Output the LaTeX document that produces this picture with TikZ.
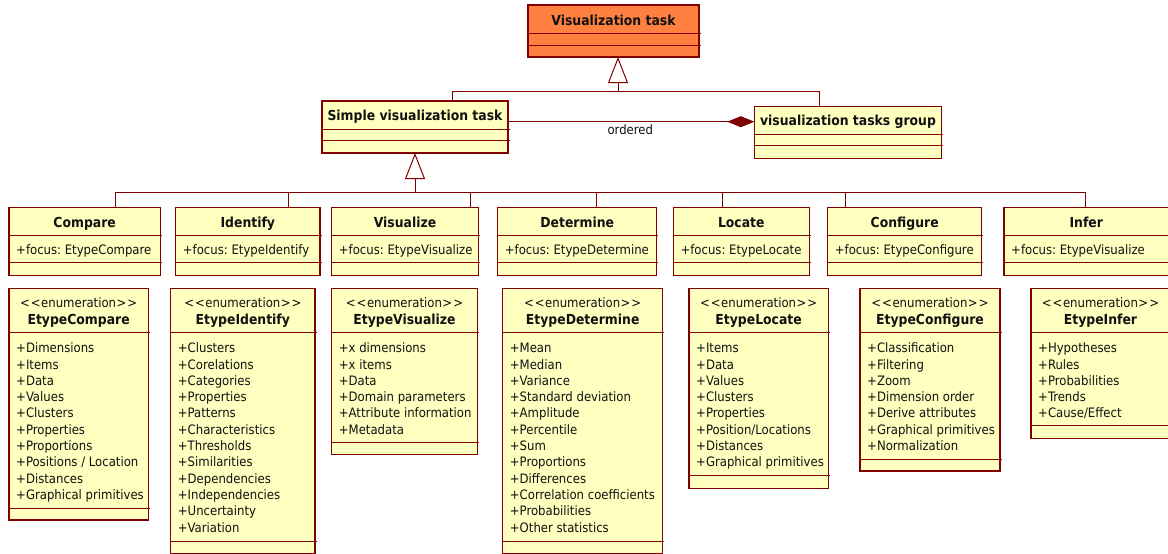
\documentclass[tikz,border=0pt]{standalone}
\usepackage{fontspec}
\setmainfont{DejaVu Sans Condensed}
\usetikzlibrary{arrows.meta}
\definecolor{umlred}{HTML}{800000}
\definecolor{classfill}{HTML}{FFFFC0}
\definecolor{vtfill}{HTML}{FF8040}
\definecolor{txt}{HTML}{111111}
\frenchspacing
\tikzset{
  boxshape/.style={draw=umlred, line width=1.1pt, rectangle, inner sep=0pt, outer sep=0pt},
  sepline/.style={draw=umlred, line width=1pt},
  conn/.style={draw=umlred, line width=1pt},
  titletext/.style={font=\bfseries\fontsize{13.8}{16}\selectfont, inner sep=0pt, text=txt},
  bodytext/.style={font=\fontsize{13}{16}\selectfont, inner sep=0pt, text=txt},
}
% name, x1, y1, x2, y2, line1, line2, style
\newcommand\umlbox[8]{%
  \node[boxshape,#8,minimum width={(#4)-(#2)},minimum height={(#5)-(#3)}] (#1) at ({((#2)+(#4))/2},{((#3)+(#5))/2}) {};
  \draw[sepline] (#1.west |- 0,#6) -- ++({(#4)-(#2)+1.5},0);
  \draw[sepline] (#1.west |- 0,#7) -- ++({(#4)-(#2)+1.5},0);
}
% name, x1, x2, connector x, title, attribute
\newcommand\umlclass[6]{%
  \umlbox{#1}{#2}{207.3}{#3}{275.7}{235}{262.3}{fill=classfill}
  \node[titletext,anchor=base] (#1-t) at (#1.north |- 0,227.3) {#5};
  \node[bodytext,anchor=base west] (#1-a) at ({#2+7},254.3) {#6};
  \draw[conn] (#1.north -| #4,0) |- (gen2);
}
% name, x1, x2, attr line, bottom, title, items
\newcommand\umlenum[7]{%
  \umlbox{#1}{#2}{288.3}{#3}{#5}{332.3}{#4}{fill=classfill}
  \node[bodytext,anchor=base] (#1-s) at (#1.north |- 0,307.3) {<\kern1pt<\kern0.5pt enumeration\kern0.5pt>\kern1pt>};
  \node[titletext,anchor=base] (#1-t) at (#1.north |- 0,324.3) {#6};
  \foreach \itm [count=\i from 0] in {#7}
    \node[bodytext,anchor=base west] (#1-i\i) at ({#2+7},{352.7+16.3*\i}) {+\itm};
}
\begin{document}
\begin{tikzpicture}[x=1pt,y=-1pt]
\path[use as bounding box, clip] (0,0) rectangle (1168,554);
\fill[white] (0,0) rectangle (1168,554);

\umlbox{vt}{528}{5}{699}{57}{33}{45}{fill=vtfill}
\node[titletext,anchor=base] (vt-t) at (vt.north |- 0,25) {Visualization task};

\umlbox{simple}{322}{101}{508}{153}{129.3}{140.7}{fill=classfill}
\node[titletext,anchor=base] (simple-t) at (simple.north |- 0,120.7) {Simple visualization task};

\umlbox{group}{754.3}{106.7}{941.7}{158.3}{134}{145.7}{fill=classfill}
\node[titletext,anchor=base] (group-t) at (group.north |- 0,125.7) {visualization tasks group};

\coordinate (gen1) at (618,91);
\coordinate (gen2) at (415,192);

\draw[conn] (simple.north -| 452,0) |- (gen1);
\draw[conn] (group.north -| 819.3,0) |- (gen1);
\draw[conn,-{Triangle[open,length=26pt,width=20pt,fill=white]}] (gen1) -- (gen1 |- vt.south);
\draw[conn,-{Triangle[open,length=26pt,width=20pt,fill=white]}] (gen2) -- (gen2 |- simple.south);
\draw[conn,-{Diamond[length=27pt,width=11pt]}] (simple.east |- 0,121.7) -- (group.west |- 0,121.7);
\node[bodytext,anchor=base] (ordered) at (630.3,134) {ordered};

\umlclass{compare}{9}{160.3}{115}{Compare}{+focus: EtypeCompare}
\umlclass{identify}{175.7}{320}{288.7}{Identify}{+focus: EtypeIdentify}
\umlclass{visualize}{331.7}{478.3}{470}{Visualize}{+focus: EtypeVisualize}
\umlclass{determine}{497.7}{656.7}{596.7}{Determine}{+focus: EtypeDetermine}
\umlclass{locate}{673.3}{809.3}{722.3}{Locate}{+focus: EtypeLocate}
\umlclass{configure}{827.7}{981.7}{845}{Configure}{+focus: EtypeConfigure}
\umlclass{infer}{1004}{1168.5}{1085}{Infer}{+focus: EtypeVisualize}

\umlenum{compareE}{9}{148.3}{508.3}{520}{EtypeCompare}{Dimensions,Items,Data,Values,Clusters,Properties,Proportions,Positions / Location,Distances,Graphical primitives}
\umlenum{identifyE}{170.7}{315}{541}{553.3}{EtypeIdentify}{Clusters,Corelations,Categories,Properties,Patterns,Characteristics,Thresholds,Similarities,Dependencies,Independencies,Uncertainty,Variation}
\umlenum{visualizeE}{331.7}{477.3}{442.7}{454.3}{EtypeVisualize}{x dimensions,x items,Data,Domain parameters,Attribute information,Metadata}
\umlenum{determineE}{502.7}{662.7}{541}{553.3}{EtypeDetermine}{Mean,Median,Variance,Standard deviation,Amplitude,Percentile,Sum,Proportions,Differences,Correlation coefficients,Probabilities,Other statistics}
\umlenum{locateE}{689}{828.3}{475}{488.3}{EtypeLocate}{Items,Data,Values,Clusters,Properties,Position/Locations,Distances,Graphical primitives}
\umlenum{configureE}{860}{1000}{459}{471}{EtypeConfigure}{Classification,Filtering,Zoom,Dimension order,Derive attributes,Graphical primitives,Normalization}
\umlenum{inferE}{1031}{1170}{425}{438.3}{EtypeInfer}{Hypotheses,Rules,Probabilities,Trends,Cause/Effect}
\end{tikzpicture}
\end{document}
